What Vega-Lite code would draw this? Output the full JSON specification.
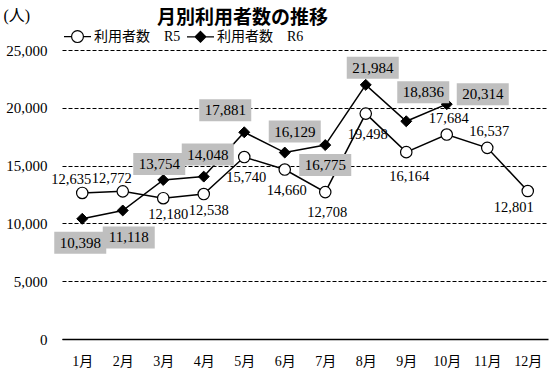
{
  "$schema": "https://vega.github.io/schema/vega-lite/v6.json",
  "width": 486,
  "height": 289,
  "autosize": {"type": "none"},
  "padding": {"left": 62, "top": 50, "right": 2, "bottom": 33},
  "background": "white",
  "config": {"view": {"stroke": null}, "font": "Liberation Serif"},
  "title": {"text": "月別利用者数の推移", "anchor": "start", "frame": "group", "dx": 95, "offset": -40, "font": "Noto Sans CJK JP", "fontSize": 19, "fontWeight": "bold", "color": "black", "baseline": "bottom"},
  "data": {"values": [
    {"month": "1月", "series": "R5", "value": 12635},
    {"month": "2月", "series": "R5", "value": 12772},
    {"month": "3月", "series": "R5", "value": 12180},
    {"month": "4月", "series": "R5", "value": 12538},
    {"month": "5月", "series": "R5", "value": 15740},
    {"month": "6月", "series": "R5", "value": 14660},
    {"month": "7月", "series": "R5", "value": 12708},
    {"month": "8月", "series": "R5", "value": 19498},
    {"month": "9月", "series": "R5", "value": 16164},
    {"month": "10月", "series": "R5", "value": 17684},
    {"month": "11月", "series": "R5", "value": 16537},
    {"month": "12月", "series": "R5", "value": 12801},
    {"month": "1月", "series": "R6", "value": 10398},
    {"month": "2月", "series": "R6", "value": 11118},
    {"month": "3月", "series": "R6", "value": 13754},
    {"month": "4月", "series": "R6", "value": 14048},
    {"month": "5月", "series": "R6", "value": 17881},
    {"month": "6月", "series": "R6", "value": 16129},
    {"month": "7月", "series": "R6", "value": 16775},
    {"month": "8月", "series": "R6", "value": 21984},
    {"month": "9月", "series": "R6", "value": 18836},
    {"month": "10月", "series": "R6", "value": 20314}
  ]},
  "encoding": {
    "x": {"field": "month", "type": "ordinal", "sort": ["1月","2月","3月","4月","5月","6月","7月","8月","9月","10月","11月","12月"], "scale": {"type": "point", "padding": 0.5},
      "axis": {"title": null, "labelAngle": 0, "ticks": false, "domain": true, "domainColor": "black", "domainWidth": 1.5, "labelFont": "Liberation Serif, Noto Sans CJK JP", "labelFontSize": 14, "labelColor": "black", "labelPadding": 15, "grid": false}},
    "y": {"field": "value", "type": "quantitative", "scale": {"domain": [0, 25000]},
      "axis": {"title": "(人)", "titleAngle": 0, "titleAlign": "left", "titleBaseline": "middle", "titleX": -59, "titleY": -35, "titleFont": "Liberation Serif, Noto Sans CJK JP", "titleFontSize": 16, "titleFontWeight": "normal", "titleColor": "black", "values": [0, 5000, 10000, 15000, 20000, 25000], "format": ",d", "ticks": false, "domain": false, "grid": true, "gridColor": "black", "gridDash": [4, 2], "gridWidth": 1, "labelFont": "Liberation Serif", "labelFontSize": 15, "labelColor": "black", "labelPadding": 15}}
  },
  "layer": [
    {"mark": {"type": "line", "color": "black", "strokeWidth": 1.5}, "encoding": {"detail": {"field": "series"}}},
    {"transform": [{"filter": "datum.series === 'R5'"}], "mark": {"type": "point", "shape": "circle", "filled": true, "fill": "white", "stroke": "black", "strokeWidth": 1.2, "size": 130, "opacity": 1}},
    {"transform": [{"filter": "datum.series === 'R6'"}], "mark": {"type": "point", "shape": "diamond", "filled": true, "fill": "black", "stroke": "black", "strokeWidth": 1, "size": 120, "opacity": 1}},
    {"transform": [{"filter": "false"}], "mark": {"type": "point", "filled": true, "stroke": "black", "strokeWidth": 1.2},
      "encoding": {
        "shape": {"field": "series", "type": "nominal", "scale": {"domain": ["R5", "R6"], "range": ["M-1,0H-0.44M0.44,0H1M0.44,0A0.44,0.44,0,1,1,-0.44,0A0.44,0.44,0,1,1,0.44,0Z", "M-1,0H-0.4M0.4,0H1M0,-0.4L0.4,0L0,0.4L-0.4,0Z"]},
          "legend": {"title": null, "orient": "none", "legendX": 1, "legendY": -28, "direction": "horizontal", "symbolSize": 729, "symbolStrokeColor": "black", "symbolStrokeWidth": 1.2, "symbolOpacity": 1, "labelFont": "Liberation Serif, Noto Sans CJK JP", "labelFontSize": 14, "labelColor": "black", "labelExpr": "'利用者数　' + datum.label", "labelOffset": 2, "columnPadding": 3, "padding": 0,
            "encode": {"symbols": {"update": {"stroke": {"value": "black"}, "strokeWidth": {"value": 1.2}, "opacity": {"value": 1}}}}}},
        "fill": {"field": "series", "type": "nominal", "scale": {"domain": ["R5", "R6"], "range": ["white", "black"]},
          "legend": {"title": null, "orient": "none", "legendX": 1, "legendY": -28, "direction": "horizontal", "symbolSize": 729, "symbolStrokeColor": "black", "symbolStrokeWidth": 1.2, "symbolOpacity": 1, "labelFont": "Liberation Serif, Noto Sans CJK JP", "labelFontSize": 14, "labelColor": "black", "labelExpr": "'利用者数　' + datum.label", "labelOffset": 2, "columnPadding": 3, "padding": 0,
            "encode": {"symbols": {"update": {"stroke": {"value": "black"}, "strokeWidth": {"value": 1.2}, "opacity": {"value": 1}}}}}}
      }},
    {"transform": [{"filter": {"and": [{"field": "series", "equal": "R5"}, {"field": "month", "oneOf": ["1月", "2月"]}]}}], "mark": {"type": "text", "xOffset": -11, "yOffset": -12.5, "fontSize": 14.5, "color": "black"}, "encoding": {"text": {"field": "value", "type": "quantitative", "format": ","}}},
    {"transform": [{"filter": {"and": [{"field": "series", "equal": "R5"}, {"field": "month", "oneOf": ["3月", "4月"]}]}}], "mark": {"type": "text", "xOffset": 5, "yOffset": 17, "fontSize": 14.5, "color": "black"}, "encoding": {"text": {"field": "value", "type": "quantitative", "format": ","}}},
    {"transform": [{"filter": {"and": [{"field": "series", "equal": "R5"}, {"field": "month", "oneOf": ["5月", "6月", "7月", "8月"]}]}}], "mark": {"type": "text", "xOffset": 2, "yOffset": 21, "fontSize": 14.5, "color": "black"}, "encoding": {"text": {"field": "value", "type": "quantitative", "format": ","}}},
    {"transform": [{"filter": {"and": [{"field": "series", "equal": "R5"}, {"field": "month", "oneOf": ["9月"]}]}}], "mark": {"type": "text", "xOffset": 3, "yOffset": 25, "fontSize": 14.5, "color": "black"}, "encoding": {"text": {"field": "value", "type": "quantitative", "format": ","}}},
    {"transform": [{"filter": {"and": [{"field": "series", "equal": "R5"}, {"field": "month", "oneOf": ["10月", "11月"]}]}}], "mark": {"type": "text", "xOffset": 2, "yOffset": -16, "fontSize": 14.5, "color": "black"}, "encoding": {"text": {"field": "value", "type": "quantitative", "format": ","}}},
    {"transform": [{"filter": {"and": [{"field": "series", "equal": "R5"}, {"field": "month", "oneOf": ["12月"]}]}}], "mark": {"type": "text", "xOffset": -14, "yOffset": 17, "fontSize": 14.5, "color": "black"}, "encoding": {"text": {"field": "value", "type": "quantitative", "format": ","}}},
    {"transform": [{"filter": {"and": [{"field": "series", "equal": "R6"}, {"field": "month", "equal": "1月"}]}}], "layer": [
      {"mark": {"type": "point", "shape": "M-1,-0.423H1V0.423H-1Z", "filled": true, "fill": "#bfbfbf", "strokeWidth": 0, "size": 2704, "opacity": 1, "xOffset": -2, "yOffset": 24}},
      {"mark": {"type": "text", "xOffset": -2, "yOffset": 24, "fontSize": 15, "color": "black"}, "encoding": {"text": {"field": "value", "type": "quantitative", "format": ","}}}]},
    {"transform": [{"filter": {"and": [{"field": "series", "equal": "R6"}, {"field": "month", "equal": "2月"}]}}], "layer": [
      {"mark": {"type": "point", "shape": "M-1,-0.423H1V0.423H-1Z", "filled": true, "fill": "#bfbfbf", "strokeWidth": 0, "size": 2704, "opacity": 1, "xOffset": 6, "yOffset": 27}},
      {"mark": {"type": "text", "xOffset": 6, "yOffset": 27, "fontSize": 15, "color": "black"}, "encoding": {"text": {"field": "value", "type": "quantitative", "format": ","}}}]},
    {"transform": [{"filter": {"and": [{"field": "series", "equal": "R6"}, {"field": "month", "equal": "3月"}]}}], "layer": [
      {"mark": {"type": "point", "shape": "M-1,-0.423H1V0.423H-1Z", "filled": true, "fill": "#bfbfbf", "strokeWidth": 0, "size": 2704, "opacity": 1, "xOffset": -4, "yOffset": -16}},
      {"mark": {"type": "text", "xOffset": -4, "yOffset": -16, "fontSize": 15, "color": "black"}, "encoding": {"text": {"field": "value", "type": "quantitative", "format": ","}}}]},
    {"transform": [{"filter": {"and": [{"field": "series", "equal": "R6"}, {"field": "month", "equal": "4月"}]}}], "layer": [
      {"mark": {"type": "point", "shape": "M-1,-0.423H1V0.423H-1Z", "filled": true, "fill": "#bfbfbf", "strokeWidth": 0, "size": 2704, "opacity": 1, "xOffset": 4, "yOffset": -22}},
      {"mark": {"type": "text", "xOffset": 4, "yOffset": -22, "fontSize": 15, "color": "black"}, "encoding": {"text": {"field": "value", "type": "quantitative", "format": ","}}}]},
    {"transform": [{"filter": {"and": [{"field": "series", "equal": "R6"}, {"field": "month", "equal": "5月"}]}}], "layer": [
      {"mark": {"type": "point", "shape": "M-1,-0.423H1V0.423H-1Z", "filled": true, "fill": "#bfbfbf", "strokeWidth": 0, "size": 2704, "opacity": 1, "xOffset": -19, "yOffset": -22}},
      {"mark": {"type": "text", "xOffset": -19, "yOffset": -22, "fontSize": 15, "color": "black"}, "encoding": {"text": {"field": "value", "type": "quantitative", "format": ","}}}]},
    {"transform": [{"filter": {"and": [{"field": "series", "equal": "R6"}, {"field": "month", "equal": "6月"}]}}], "layer": [
      {"mark": {"type": "point", "shape": "M-1,-0.423H1V0.423H-1Z", "filled": true, "fill": "#bfbfbf", "strokeWidth": 0, "size": 2704, "opacity": 1, "xOffset": 10, "yOffset": -21}},
      {"mark": {"type": "text", "xOffset": 10, "yOffset": -21, "fontSize": 15, "color": "black"}, "encoding": {"text": {"field": "value", "type": "quantitative", "format": ","}}}]},
    {"transform": [{"filter": {"and": [{"field": "series", "equal": "R6"}, {"field": "month", "equal": "7月"}]}}], "layer": [
      {"mark": {"type": "point", "shape": "M-1,-0.423H1V0.423H-1Z", "filled": true, "fill": "#bfbfbf", "strokeWidth": 0, "size": 2704, "opacity": 1, "xOffset": 0, "yOffset": 20}},
      {"mark": {"type": "text", "xOffset": 0, "yOffset": 20, "fontSize": 15, "color": "black"}, "encoding": {"text": {"field": "value", "type": "quantitative", "format": ","}}}]},
    {"transform": [{"filter": {"and": [{"field": "series", "equal": "R6"}, {"field": "month", "equal": "8月"}]}}], "layer": [
      {"mark": {"type": "point", "shape": "M-1,-0.423H1V0.423H-1Z", "filled": true, "fill": "#bfbfbf", "strokeWidth": 0, "size": 2704, "opacity": 1, "xOffset": 7, "yOffset": -17}},
      {"mark": {"type": "text", "xOffset": 7, "yOffset": -17, "fontSize": 15, "color": "black"}, "encoding": {"text": {"field": "value", "type": "quantitative", "format": ","}}}]},
    {"transform": [{"filter": {"and": [{"field": "series", "equal": "R6"}, {"field": "month", "equal": "9月"}]}}], "layer": [
      {"mark": {"type": "point", "shape": "M-1,-0.423H1V0.423H-1Z", "filled": true, "fill": "#bfbfbf", "strokeWidth": 0, "size": 2704, "opacity": 1, "xOffset": 17, "yOffset": -29}},
      {"mark": {"type": "text", "xOffset": 17, "yOffset": -29, "fontSize": 15, "color": "black"}, "encoding": {"text": {"field": "value", "type": "quantitative", "format": ","}}}]},
    {"transform": [{"filter": {"and": [{"field": "series", "equal": "R6"}, {"field": "month", "equal": "10月"}]}}], "layer": [
      {"mark": {"type": "point", "shape": "M-1,-0.423H1V0.423H-1Z", "filled": true, "fill": "#bfbfbf", "strokeWidth": 0, "size": 2704, "opacity": 1, "xOffset": 36, "yOffset": -10}},
      {"mark": {"type": "text", "xOffset": 36, "yOffset": -10, "fontSize": 15, "color": "black"}, "encoding": {"text": {"field": "value", "type": "quantitative", "format": ","}}}]}
  ]
}
